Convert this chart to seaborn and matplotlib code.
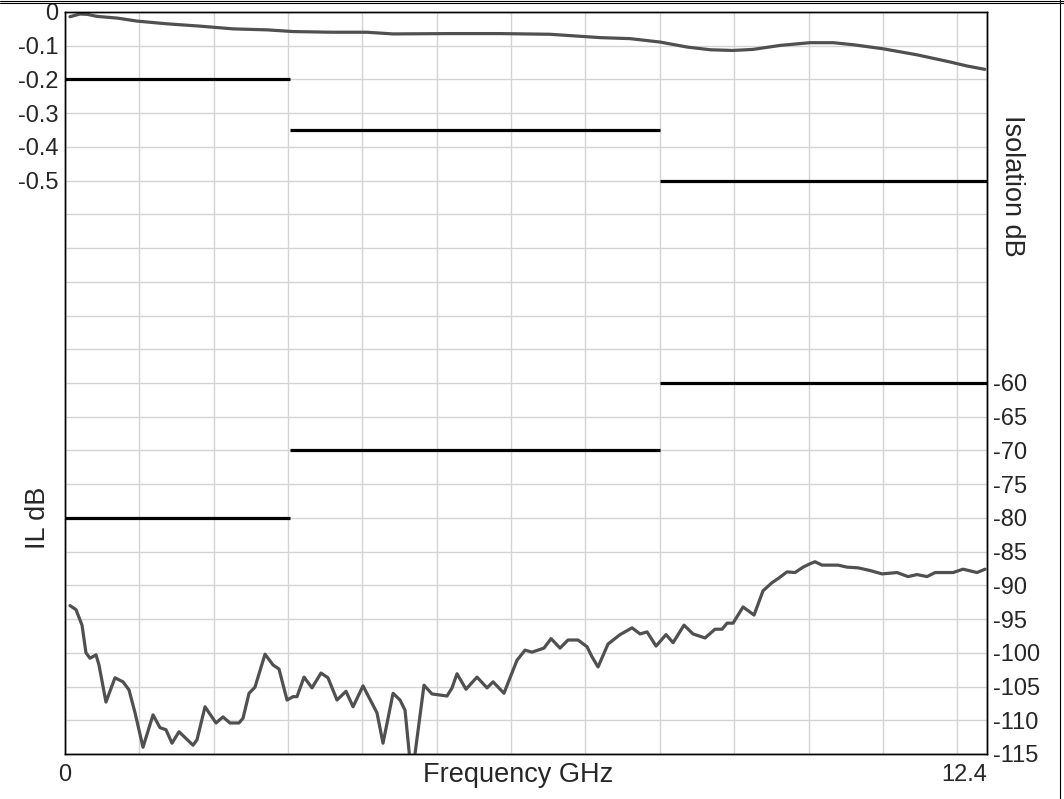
import numpy as np
import matplotlib
matplotlib.use("Agg")
import matplotlib.pyplot as plt
import seaborn as sns
from matplotlib.lines import Line2D

sns.set_style("white")
plt.rcParams['font.family'] = ['Liberation Sans', 'DejaVu Sans']

# ---- data ----
il_freq = [0.067, 0.134, 0.20, 0.30, 0.43, 0.70, 0.97, 1.37, 1.82, 2.26, 2.72,
           3.07, 3.60, 4.06, 4.41, 5.18, 5.85, 6.52, 7.20, 7.60, 8.00, 8.37,
           8.68, 8.98, 9.25, 9.62, 10.02, 10.33, 10.60, 11.00, 11.46, 11.90,
           12.13, 12.37]
il_db = [-0.014, -0.010, -0.006, -0.007, -0.013, -0.018, -0.027, -0.035, -0.042,
         -0.050, -0.053, -0.058, -0.060, -0.060, -0.065, -0.064, -0.064, -0.066,
         -0.076, -0.079, -0.089, -0.104, -0.112, -0.114, -0.111, -0.099, -0.091,
         -0.091, -0.097, -0.109, -0.127, -0.148, -0.160, -0.170]

iso_freq = [0.067, 0.148, 0.229, 0.282, 0.336, 0.417, 0.457, 0.551, 0.672, 0.780,
            0.861, 0.942, 1.049, 1.184, 1.278, 1.358, 1.439, 1.533, 1.722, 1.775,
            1.883, 2.031, 2.125, 2.219, 2.340, 2.394, 2.475, 2.555, 2.690, 2.798,
            2.878, 2.986, 3.067, 3.120, 3.215, 3.322, 3.443, 3.537, 3.658, 3.779,
            3.874, 4.008, 4.196, 4.277, 4.412, 4.506, 4.573, 4.640, 4.707, 4.828,
            4.936, 5.138, 5.205, 5.272, 5.393, 5.541, 5.676, 5.757, 5.904, 5.985,
            6.079, 6.187, 6.281, 6.442, 6.537, 6.658, 6.765, 6.900, 7.021, 7.088,
            7.169, 7.303, 7.465, 7.626, 7.734, 7.828, 7.949, 8.083, 8.178, 8.325,
            8.446, 8.608, 8.742, 8.837, 8.904, 8.985, 9.119, 9.267, 9.388, 9.509,
            9.590, 9.711, 9.818, 9.926, 10.020, 10.087, 10.182, 10.397, 10.518,
            10.666, 10.827, 10.989, 11.190, 11.338, 11.459, 11.594, 11.702, 11.944,
            12.078, 12.266, 12.374]
iso_db = [-93.0, -93.6, -95.9, -100.0, -100.8, -100.3, -101.8, -107.3, -103.7, -104.3,
          -105.5, -108.9, -114.0, -109.2, -111.1, -111.4, -113.4, -111.7, -113.7, -112.9,
          -108.0, -110.4, -109.5, -110.4, -110.4, -109.7, -106.0, -105.1, -100.2, -101.8,
          -102.4, -107.0, -106.5, -106.5, -103.6, -105.2, -103.0, -103.7, -107.0, -105.7,
          -108.0, -104.9, -108.9, -113.4, -106.0, -107.0, -108.5, -116.0, -115.0, -104.8,
          -106.1, -106.4, -105.2, -103.1, -105.4, -103.6, -105.2, -104.3, -106.0, -103.7,
          -101.1, -99.6, -99.9, -99.3, -97.9, -99.3, -98.1, -98.1, -99.1, -100.6,
          -102.1, -98.7, -97.3, -96.3, -97.2, -96.9, -99.0, -97.3, -98.5, -95.9,
          -97.2, -97.8, -96.5, -96.5, -95.6, -95.6, -93.2, -94.4, -90.8, -89.6,
          -89.0, -88.0, -88.1, -87.3, -86.8, -86.5, -87.0, -87.0, -87.3,
          -87.4, -87.8, -88.3, -88.1, -88.7, -88.4, -88.7, -88.1, -88.1,
          -87.6, -88.1, -87.6]

# spec limits per band
band_start = [0.0, 3.03, 8.0]
band_stop = [3.03, 8.0, 12.4]
il_limit = [-0.2, -0.35, -0.5]
iso_limit = [-80, -70, -60]

# axis labels
il_tick_labels = ['0', '-0.1', '-0.2', '-0.3', '-0.4', '-0.5']
iso_tick_labels = ['-60', '-65', '-70', '-75', '-80', '-85', '-90', '-95',
                   '-100', '-105', '-110', '-115']

curve_color = '#505050'
tick_fs = 17
label_fs = 19.5

fig = plt.figure(figsize=(10.64, 7.99), dpi=100)
ax = fig.add_axes([65 / 1064, 1 - 754 / 799, (987 - 65) / 1064, (754 - 12) / 799])
ax2 = ax.twinx()

# insertion loss on left axis
sns.lineplot(x=il_freq, y=il_db, ax=ax, color=curve_color, lw=2.3, sort=False)
ax.hlines(il_limit, band_start, band_stop, colors='black', lw=2.3)

# isolation on right axis
sns.lineplot(x=iso_freq, y=iso_db, ax=ax2, color=curve_color, lw=2.3, sort=False)
ax2.hlines(iso_limit, band_start, band_stop, colors='black', lw=2.3)

ax.set_xlim(0, 12.4)
ax.set_ylim(-2.2, 0)
ax2.set_ylim(-115, -5)

# x ticks: grid every GHz, only the ends labelled
xt = list(range(0, 13)) + [12.4]
ax.set_xticks(xt)
ax.set_xticklabels(['0'] + [''] * 12 + ['12.4'], fontsize=tick_fs)
ax.get_xticklabels()[-1].set_ha('right')
ax.tick_params(axis='x', length=0, pad=7)

# left y ticks
lt = [-0.1 * i for i in range(23)]
ax.set_yticks(lt)
ax.set_yticklabels(il_tick_labels + [''] * (len(lt) - len(il_tick_labels)), fontsize=tick_fs)
ax.tick_params(axis='y', length=0, pad=5)

# right y ticks
rt = list(range(-115, -4, 5))
ax2.set_yticks(rt)
lab = {-int(t.lstrip('-')): t for t in iso_tick_labels}
ax2.set_yticklabels([lab.get(v, '') for v in rt], fontsize=tick_fs)
ax2.tick_params(axis='y', length=0, pad=4)

ax.grid(True, color='#d4d4d4', lw=1)
ax2.grid(False)
for a in (ax, ax2):
    for s in a.spines.values():
        s.set_color('black')
        s.set_linewidth(1.0)
        s.set_visible(True)

ax.set_xlabel('Frequency GHz', fontsize=label_fs)
ax.xaxis.set_label_coords(0.492, -(775 - 754) / 742)
ax.xaxis.label.set_va('center')
ax.set_ylabel('')
ax2.set_ylabel('')

fig.text(38 / 1064, 1 - 518 / 799, 'IL dB', rotation=90, ha='center', va='center',
         fontsize=label_fs)
fig.text(1012 / 1064, 1 - 186 / 799, 'Isolation dB', rotation=270, ha='center',
         va='center', fontsize=label_fs)

# window frame lines
fig.add_artist(Line2D([0, 1], [1 - 0.5 / 799, 1 - 0.5 / 799], color='black', lw=0.8))
fig.add_artist(Line2D([0, 1], [1 - 3 / 799, 1 - 3 / 799], color='black', lw=0.8))
fig.add_artist(Line2D([1060 / 1064, 1060 / 1064], [0, 1], color='black', lw=0.8))

fig.savefig('out.png', dpi=100)
